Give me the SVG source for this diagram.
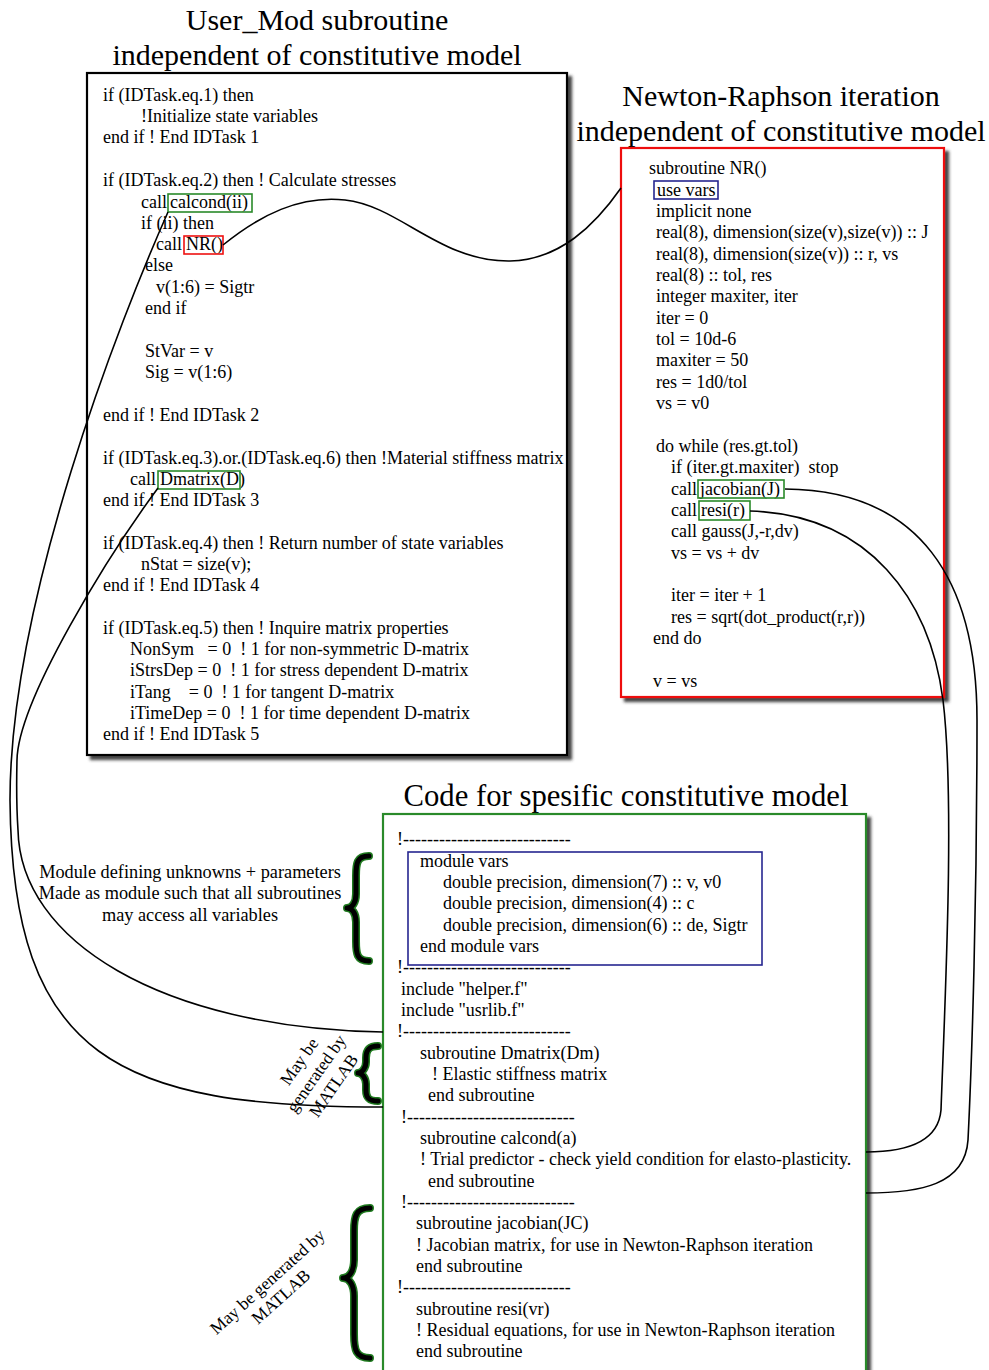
<svg xmlns="http://www.w3.org/2000/svg" width="989" height="1370" viewBox="0 0 989 1370">
<style>
text{font-family:"Liberation Serif","Times New Roman",serif;fill:#000}
.t{font-size:18px}
.ti{font-size:30px;text-anchor:middle}
.lb{font-size:18.3px;text-anchor:middle}
.rl{font-size:17.5px;text-anchor:middle}
.box{fill:#fff;stroke-width:2.2}
.hl{fill:none;stroke-width:1.6}
.g{stroke:#2a8a2a}
.r{stroke:#ee1111}
.b{stroke:#262690}
.conn path{fill:none;stroke:#000;stroke-width:1.6}
.brace-o{fill:none;stroke:#1f7a1f;stroke-width:8;stroke-linecap:round;stroke-linejoin:round}
.brace-i{fill:none;stroke:#000;stroke-width:5;stroke-linecap:round;stroke-linejoin:round}
</style>
<defs>
<filter id="sh" x="-5%" y="-5%" width="115%" height="115%">
<feDropShadow dx="4" dy="4" stdDeviation="1.8" flood-color="#333" flood-opacity="0.9"/>
</filter>
</defs>
<rect width="989" height="1370" fill="#fff"/>

<g id="titles">
<text class="ti" x="317" y="30">User_Mod subroutine</text>
<text class="ti" x="317" y="65">independent of constitutive model</text>
<text class="ti" x="781" y="106">Newton-Raphson iteration</text>
<text class="ti" x="781" y="141">independent of constitutive model</text>
<text class="ti" x="626" y="806" style="font-size:30.7px">Code for spesific constitutive model</text>
</g>

<g id="usermod">
<rect class="box" x="87" y="73" width="480" height="682" stroke="#000" filter="url(#sh)"/>
<g class="t">
<text x="103" y="101">if (IDTask.eq.1) then</text>
<text x="141" y="122">!Initialize state variables</text>
<text x="103" y="143">end if ! End IDTask 1</text>
<text x="103" y="186">if (IDTask.eq.2) then ! Calculate stresses</text>
<text x="141" y="208">call <tspan x="170">calcond(ii)</tspan></text>
<text x="141" y="229">if (ii) then</text>
<text x="156" y="250">call <tspan x="186">NR()</tspan></text>
<text x="145" y="271">else</text>
<text x="156" y="293">v(1:6) = Sigtr</text>
<text x="145" y="314">end if</text>
<text x="145" y="357">StVar = v</text>
<text x="145" y="378">Sig = v(1:6)</text>
<text x="103" y="421">end if ! End IDTask 2</text>
<text x="103" y="464">if (IDTask.eq.3).or.(IDTask.eq.6) then !Material stiffness matrix</text>
<text x="130" y="485">call <tspan x="160">Dmatrix(D)</tspan></text>
<text x="103" y="506">end if ! End IDTask 3</text>
<text x="103" y="549">if (IDTask.eq.4) then ! Return number of state variables</text>
<text x="141" y="570">nStat = size(v);</text>
<text x="103" y="591">end if ! End IDTask 4</text>
<text x="103" y="634">if (IDTask.eq.5) then ! Inquire matrix properties</text>
<text x="130" y="655" xml:space="preserve">NonSym   = 0  ! 1 for non-symmetric D-matrix</text>
<text x="130" y="676" xml:space="preserve">iStrsDep = 0  ! 1 for stress dependent D-matrix</text>
<text x="130" y="698" xml:space="preserve">iTang    = 0  ! 1 for tangent D-matrix</text>
<text x="130" y="719" xml:space="preserve">iTimeDep = 0  ! 1 for time dependent D-matrix</text>
<text x="103" y="740">end if ! End IDTask 5</text>
</g>
<rect class="hl g" x="168" y="194" width="84" height="18"/>
<rect class="hl r" x="184" y="236" width="39" height="18"/>
<rect class="hl g" x="158" y="471" width="82" height="18"/>
</g>

<g id="newton">
<rect class="box" x="621" y="148" width="323" height="549" stroke="#ee1111" filter="url(#sh)"/>
<g class="t">
<text x="649" y="174">subroutine NR()</text>
<text x="657" y="196">use vars</text>
<text x="656" y="217">implicit none</text>
<text x="656" y="238">real(8), dimension(size(v),size(v)) :: J</text>
<text x="656" y="260">real(8), dimension(size(v)) :: r, vs</text>
<text x="656" y="281">real(8) :: tol, res</text>
<text x="656" y="302">integer maxiter, iter</text>
<text x="656" y="324">iter = 0</text>
<text x="656" y="345">tol = 10d-6</text>
<text x="656" y="366">maxiter = 50</text>
<text x="656" y="388">res = 1d0/tol</text>
<text x="656" y="409">vs = v0</text>
<text x="656" y="452">do while (res.gt.tol)</text>
<text x="671" y="473" xml:space="preserve">if (iter.gt.maxiter)  stop</text>
<text x="671" y="495">call <tspan x="700">jacobian(J)</tspan></text>
<text x="671" y="516">call <tspan x="701">resi(r)</tspan></text>
<text x="671" y="537">call gauss(J,-r,dv)</text>
<text x="671" y="559">vs = vs + dv</text>
<text x="671" y="601">iter = iter + 1</text>
<text x="671" y="623">res = sqrt(dot_product(r,r))</text>
<text x="653" y="644">end do</text>
<text x="653" y="687">v = vs</text>
</g>
<rect class="hl b" x="654" y="181" width="64" height="18"/>
<rect class="hl g" x="698" y="480" width="86" height="18"/>
<rect class="hl g" x="699" y="501" width="51" height="19"/>
</g>

<g id="specific">
<rect class="box" x="383" y="814" width="483" height="580" stroke="#2a8a2a" filter="url(#sh)"/>
<g class="t">
<text x="397" y="845">!----------------------------</text>
<text x="397" y="973">!----------------------------</text>
<text x="401" y="995">include "helper.f"</text>
<text x="401" y="1016">include "usrlib.f"</text>
<text x="397" y="1037">!----------------------------</text>
<text x="420" y="1059">subroutine Dmatrix(Dm)</text>
<text x="432" y="1080">! Elastic stiffness matrix</text>
<text x="428" y="1101">end subroutine</text>
<text x="401" y="1123">!----------------------------</text>
<text x="420" y="1144">subroutine calcond(a)</text>
<text x="420" y="1165">! Trial predictor - check yield condition for elasto-plasticity.</text>
<text x="428" y="1187">end subroutine</text>
<text x="401" y="1208">!----------------------------</text>
<text x="416" y="1229">subroutine jacobian(JC)</text>
<text x="416" y="1251">! Jacobian matrix, for use in Newton-Raphson iteration</text>
<text x="416" y="1272">end subroutine</text>
<text x="397" y="1293">!----------------------------</text>
<text x="416" y="1315">subroutine resi(vr)</text>
<text x="416" y="1336">! Residual equations, for use in Newton-Raphson iteration</text>
<text x="416" y="1357">end subroutine</text>
</g>
</g>

<g id="module-vars">
<rect x="408" y="852" width="354" height="113" fill="#fff" stroke="#262690" stroke-width="1.6"/>
<g class="t">
<text x="420" y="867">module vars</text>
<text x="443" y="888">double precision, dimension(7) :: v, v0</text>
<text x="443" y="909">double precision, dimension(4) :: c</text>
<text x="443" y="931">double precision, dimension(6) :: de, Sigtr</text>
<text x="420" y="952">end module vars</text>
</g>
</g>

<g id="annotations">
<text class="lb" x="190" y="878">Module defining unknowns + parameters</text>
<text class="lb" x="190" y="899">Made as module such that all subroutines</text>
<text class="lb" x="190" y="921">may access all variables</text>
<g transform="translate(317,1074) rotate(-55)">
<text class="rl" x="0" y="-16">May be</text>
<text class="rl" x="0" y="5">generated by</text>
<text class="rl" x="0" y="26">MATLAB</text>
</g>
<g transform="translate(274,1289) rotate(-42)">
<text class="rl" x="0" y="-4">May be generated by</text>
<text class="rl" x="0" y="16">MATLAB</text>
</g>
</g>

<g id="braces">
<path class="brace-o" d="M369,856 C 357,856 356,863 356,876 L 356,894 C 356,903 352,908 347,908 C 352,908 356,913 356,922 L 356,941 C 356,954 357,961 369,961"/>
<path class="brace-i" d="M369,856 C 357,856 356,863 356,876 L 356,894 C 356,903 352,908 347,908 C 352,908 356,913 356,922 L 356,941 C 356,954 357,961 369,961"/>
<path class="brace-o" d="M378,1046 C 368,1046 366,1051 366,1058 L 366,1062 C 366,1068 362,1073 358,1073 C 362,1073 366,1078 366,1084 L 366,1090 C 366,1097 368,1101 378,1101"/>
<path class="brace-i" d="M378,1046 C 368,1046 366,1051 366,1058 L 366,1062 C 366,1068 362,1073 358,1073 C 362,1073 366,1078 366,1084 L 366,1090 C 366,1097 368,1101 378,1101"/>
<path class="brace-o" d="M370,1208 C 356,1208 354,1216 354,1231 L 354,1260 C 354,1270 350,1278 343,1278 C 350,1278 354,1286 354,1296 L 354,1334 C 354,1350 356,1358 370,1358"/>
<path class="brace-i" d="M370,1208 C 356,1208 354,1216 354,1231 L 354,1260 C 354,1270 350,1278 343,1278 C 350,1278 354,1286 354,1296 L 354,1334 C 354,1350 356,1358 370,1358"/>
</g>

<g id="connectors" class="conn">
<path d="M223,245 C 260,215 300,195 345,200 C 400,206 440,262 510,261 C 560,260 595,225 621,188"/>
<path d="M168,212 C 120,320 10,600 10,800 C 12,1060 120,1107 383,1107"/>
<path d="M158,488 C 110,553 18,700 17,760 C 16,800 17,815 18,830 C 20,940 160,1028 383,1032"/>
<path d="M785,489 C 920,490 977,580 977,720 C 977,900 972,1060 968,1140 C 965,1185 920,1193 866,1193"/>
<path d="M750,511 C 870,515 930,600 943,700 C 955,800 945,1000 941,1110 C 938,1145 900,1152 866,1152"/>
</g>
</svg>
